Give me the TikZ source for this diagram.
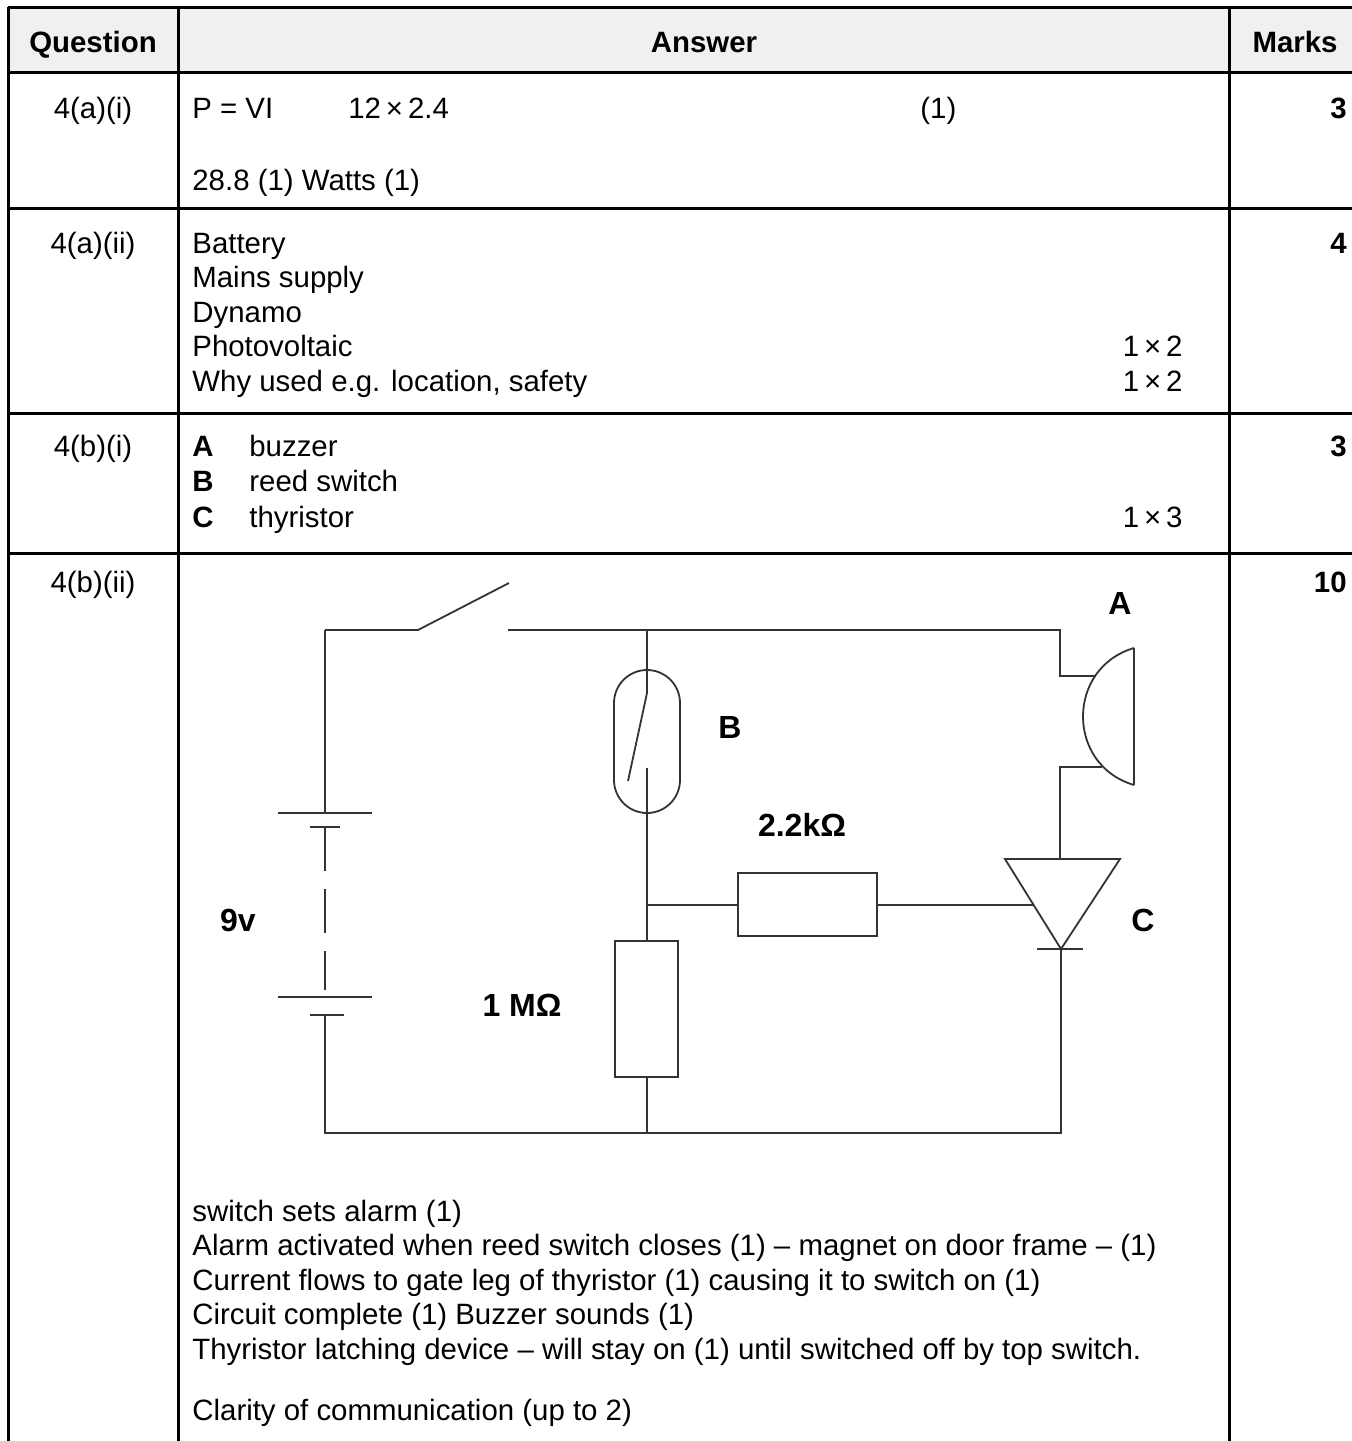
\documentclass[tikz,border=0pt]{standalone}
\usepackage{fontspec}
\setmainfont{Liberation Sans}
\usetikzlibrary{positioning}

\tikzset{
  txt/.style={anchor=base west, inner sep=0pt, font=\fontsize{14.7}{17}\selectfont},
  qtxt/.style={anchor=base, inner sep=0pt, font=\fontsize{14.7}{17}\selectfont},
  mtxt/.style={anchor=base east, inner sep=0pt, font=\fontsize{14.7}{17}\selectfont\bfseries},
  rtxt/.style={anchor=base east, inner sep=0pt, font=\fontsize{14.7}{17}\selectfont},
  rule/.style={line width=1.5pt},
  wire/.style={line width=0.9pt, draw=black!80},
  lbl/.style={inner sep=0pt, font=\fontsize{16}{18}\selectfont\bfseries},
}

\begin{document}
\begin{tikzpicture}[x=0.5pt,y=-0.5pt]
\useasboundingbox (0,0) rectangle (1352,1441);

% table
\fill[black!6] (8,7) rectangle (1352,72);
\draw[rule] (8,7) -- (1352,7);
\draw[rule] (8,72) -- (1352,72);
\draw[rule] (8,208) -- (1352,208);
\draw[rule] (8,413) -- (1352,413);
\draw[rule] (8,553) -- (1352,553);
\draw[rule] (8,7) -- (8,1441);
\draw[rule] (178,7) -- (178,1441);
\draw[rule] (1229,7) -- (1229,1441);

\node[qtxt, font=\fontsize{14.7}{17}\selectfont\bfseries] (hq) at (93,52) {Question};
\node[qtxt, font=\fontsize{14.7}{17}\selectfont\bfseries] (ha) at (704,52) {Answer};
\node[qtxt, font=\fontsize{14.7}{17}\selectfont\bfseries] (hm) at (1295,52) {Marks};

% 4(a)(i)
\node[qtxt] (q1) at (93,118) {4(a)(i)};
\node[txt] (a1) at (192,118) {P = VI};
\node[txt] (a1b) at (348,118) {12\,×\,2.4};
\node[txt] (a1c) at (920,118) {(1)};
\node[txt] (a1d) at (192,190) {28.8 (1) Watts (1)};
\node[mtxt] (m1) at (1347,118) {3};

% 4(a)(ii)
\node[qtxt] (q2) at (93,253) {4(a)(ii)};
\node[txt] (a2) at (192,253) {Battery};
\node[txt] (a2b) at (192,287.5) {Mains supply};
\node[txt] (a2c) at (192,322) {Dynamo};
\node[txt] (a2d) at (192,356.5) {Photovoltaic};
\node[txt] (a2e) at (192,391) {Why used e.g. location, safety};
\node[rtxt] (a2f) at (1183,356.5) {1\,×\,2};
\node[rtxt] (a2g) at (1183,391) {1\,×\,2};
\node[mtxt] (m2) at (1347,253) {4};

% 4(b)(i)
\node[qtxt] (q3) at (93,456) {4(b)(i)};
\node[txt, font=\fontsize{14.7}{17}\selectfont\bfseries] (la) at (192,456) {A};
\node[txt] (a3) at (249,456) {buzzer};
\node[txt, font=\fontsize{14.7}{17}\selectfont\bfseries] (lb) at (192,491) {B};
\node[txt] (a3b) at (249,491) {reed switch};
\node[txt, font=\fontsize{14.7}{17}\selectfont\bfseries] (lc) at (192,527) {C};
\node[txt] (a3c) at (249,527) {thyristor};
\node[rtxt] (a3d) at (1183,527) {1\,×\,3};
\node[mtxt] (m3) at (1347,456) {3};

% 4(b)(ii)
\node[qtxt] (q4) at (93,592) {4(b)(ii)};
\node[mtxt] (m4) at (1347,592) {10};

% circuit points
\coordinate (tl) at (325,630);
\coordinate (pivot) at (418,630);
\coordinate (tip) at (509,583);
\coordinate (contact) at (508,630);
\coordinate (jtop) at (647,630);
\coordinate (tr) at (1060,630);
\coordinate (jmid) at (647,905);
\coordinate (jbot) at (647,1133);
\coordinate (bl) at (325,1133);
\coordinate (br) at (1061,1133);
\coordinate (gate) at (1034,905);
\coordinate (kath) at (1061,949);

% switch and wires
\draw[wire] (contact) -- (jtop) -- (tr) -- (1060,676) -- (1096,676);
\draw[wire] (1102,767) -- (1060,767) -- (1060,859);
\draw[wire] (tl) -- (pivot) -- (tip);
\draw[wire] (tl) -- (325,813);
\draw[wire] (325,1015) -- (bl) -- (br) -- (kath);

% buzzer
\draw[wire] (1134,648) -- (1134,785);
\draw[wire] (1134,648) .. controls (1066,668) and (1066,765) .. (1134,785);

% reed switch
\draw[wire, rounded corners=16.5pt] (614,670) rectangle (680,813);
\draw[wire] (jtop) -- (647,693) -- (628,781);
\draw[wire] (647,768) -- (jmid);

% resistors
\draw[wire] (615,941) rectangle (678,1077);
\draw[wire] (jmid) -- (647,941);
\draw[wire] (647,1077) -- (jbot);
\draw[wire] (738,873) rectangle (877,936);
\draw[wire] (jmid) -- (738,905);
\draw[wire] (877,905) -- (gate);

% thyristor
\draw[wire] (1005,859) -- (1120,859) -- (kath) -- cycle;
\draw[wire] (1037,949) -- (1083,949);

% battery
\draw[wire] (278,813) -- (372,813);
\draw[wire] (310,827) -- (340,827);
\draw[wire, dash pattern=on 22pt off 9pt] (325,827) -- (325,990);
\draw[wire] (278,997) -- (372,997);
\draw[wire] (310,1015) -- (344,1015);

% labels
\node[lbl] (labA) at (1120,603) {A};
\node[lbl] (labB) at (730,727) {B};
\node[lbl] (labR2) at (802,825) {2.2kΩ};
\node[lbl] (labC) at (1143,920) {C};
\node[lbl] (labV) at (238,920) {9v};
\node[lbl] (labR1) at (522,1005) {1 MΩ};

% explanation
\node[txt] (e1) at (192,1221) {switch sets alarm (1)};
\node[txt] (e2) at (192,1255.5) {Alarm activated when reed switch closes (1) – magnet on door frame – (1)};
\node[txt] (e3) at (192,1290) {Current flows to gate leg of thyristor (1) causing it to switch on (1)};
\node[txt] (e4) at (192,1324.5) {Circuit complete (1) Buzzer sounds (1)};
\node[txt] (e5) at (192,1359) {Thyristor latching device – will stay on (1) until switched off by top switch.};
\node[txt] (e6) at (192,1420) {Clarity of communication (up to 2)};
\end{tikzpicture}
\end{document}
